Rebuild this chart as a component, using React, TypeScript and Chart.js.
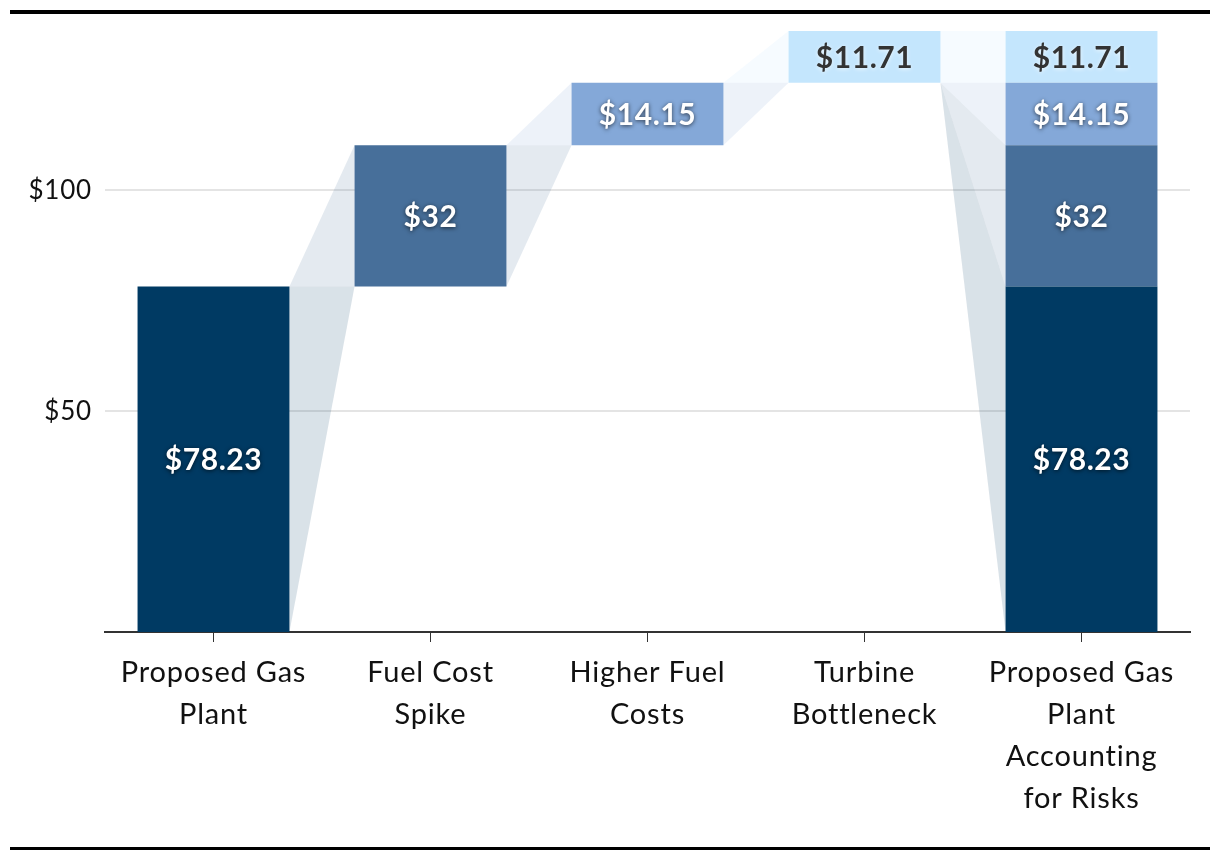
import React, { useEffect, useRef } from "react";
import { Chart, registerables } from "chart.js";

Chart.register(...registerables);

const categories: string[][] = [
  ["Proposed Gas", "Plant"],
  ["Fuel Cost", "Spike"],
  ["Higher Fuel", "Costs"],
  ["Turbine", "Bottleneck"],
  ["Proposed Gas", "Plant", "Accounting", "for Risks"],
];
const stepNames = ["Proposed Gas Plant", "Fuel Cost Spike", "Higher Fuel Costs", "Turbine Bottleneck"];
const stepValues = [78.23, 32, 14.15, 11.71];
const stepColors = ["#003a63", "#476f9a", "#84a8d8", "#c4e6fd"];
const labelColors = ["#ffffff", "#ffffff", "#ffffff", "#333333"];
const yTickValues = [50, 100];

const FONT = "Lato, 'Noto Sans', sans-serif";

function rgba(hex: string, a: number) {
  const h = hex.replace("#", "");
  const r = parseInt(h.slice(0, 2), 16);
  const g = parseInt(h.slice(2, 4), 16);
  const b = parseInt(h.slice(4, 6), 16);
  return `rgba(${r},${g},${b},${a})`;
}

export default function App() {
  const ref = useRef<HTMLCanvasElement>(null);

  useEffect(() => {
    if (!ref.current) return;
    const starts: number[] = [];
    let acc = 0;
    for (const v of stepValues) {
      starts.push(acc);
      acc += v;
    }
    const total = acc;
    const n = categories.length;

    const datasets = stepValues.map((v, s) => ({
      label: stepNames[s],
      data: categories.map((_, i) => (i === s || i === n - 1 ? [starts[s], starts[s] + v] : null)),
      backgroundColor: stepColors[s],
      borderWidth: 0,
      grouped: false,
      barPercentage: 0.7,
      categoryPercentage: 1,
    }));

    const interval = (s: number, c: number): [number, number] => {
      if (c === n - 1 || s === c) return [starts[s], starts[s] + stepValues[s]];
      if (s < c) return [starts[c], starts[c]];
      const top = starts[c] + stepValues[c];
      return [top, top];
    };

    const barEl = (chart: any, c: number) => {
      const ds = c === n - 1 ? 0 : c;
      return chart.getDatasetMeta(ds).data[c] as any;
    };

    const connectorPlugin = {
      id: "connectors",
      beforeDraw(chart: any) {
        const ctx = chart.ctx as any;
        ctx.letterSpacing = "0.8px";
      },
      beforeDatasetsDraw(chart: any) {
        const ctx = chart.ctx as CanvasRenderingContext2D;
        const y = chart.scales.y;
        ctx.save();
        for (let c = 0; c < n - 1; c++) {
          const a = barEl(chart, c);
          const b = barEl(chart, c + 1);
          if (!a || !b) continue;
          const x1 = a.x + a.width / 2;
          const x2 = b.x - b.width / 2;
          for (let s = 0; s < stepValues.length; s++) {
            const i1 = interval(s, c);
            const i2 = interval(s, c + 1);
            if (i1[0] === i1[1] && i2[0] === i2[1]) continue;
            ctx.beginPath();
            ctx.moveTo(x1, y.getPixelForValue(i1[0]));
            ctx.lineTo(x1, y.getPixelForValue(i1[1]));
            ctx.lineTo(x2, y.getPixelForValue(i2[1]));
            ctx.lineTo(x2, y.getPixelForValue(i2[0]));
            ctx.closePath();
            ctx.fillStyle = rgba(stepColors[s], 0.15);
            ctx.fill();
          }
        }
        ctx.restore();
      },
      afterDatasetsDraw(chart: any) {
        const ctx = chart.ctx as any;
        ctx.save();
        ctx.letterSpacing = "0.6px";
        ctx.font = `bold 30px ${FONT}`;
        ctx.textAlign = "center";
        ctx.textBaseline = "middle";
        for (let s = 0; s < stepValues.length; s++) {
          const meta = chart.getDatasetMeta(s);
          meta.data.forEach((el: any, i: number) => {
            if (datasets[s].data[i] == null) return;
            const cy = (el.y + el.base) / 2;
            const dark = labelColors[s] !== "#ffffff";
            ctx.shadowColor = dark ? "rgba(255,255,255,0.7)" : "rgba(0,0,0,0.65)";
            ctx.shadowBlur = 4;
            ctx.shadowOffsetX = 0;
            ctx.shadowOffsetY = 1;
            ctx.fillStyle = labelColors[s];
            ctx.fillText(`$${stepValues[s]}`, el.x, cy + 1);
          });
        }
        ctx.restore();
      },
      afterDraw(chart: any) {
        const ctx = chart.ctx as CanvasRenderingContext2D;
        ctx.save();
        ctx.fillStyle = "#000";
        ctx.fillRect(10, 10, 1200, 4);
        ctx.fillRect(10, 847, 1200, 3);
        ctx.restore();
      },
    };

    const chart = new Chart(ref.current, {
      type: "bar",
      data: { labels: categories as any, datasets: datasets as any },
      options: {
        animation: false,
        responsive: false,
        maintainAspectRatio: false,
        layout: { padding: { left: 0, right: 30, top: 31, bottom: 0 } },
        plugins: { legend: { display: false }, tooltip: { enabled: false } },
        font: { family: FONT },
        scales: {
          x: {
            grid: {
              display: true,
              offset: false,
              drawOnChartArea: false,
              drawTicks: true,
              tickLength: 10,
              tickColor: "#333",
              tickWidth: 1,
            },
            border: { display: true, color: "#333", width: 2 },
            ticks: {
              color: "#111",
              padding: 10,
              font: { family: FONT, size: 29, lineHeight: 42 / 29 },
              maxRotation: 0,
              autoSkip: false,
            },
            afterFit(scale: any) {
              scale.height = 228;
            },
          },
          y: {
            min: 0,
            max: total,
            grid: { color: "#e4e4e4", lineWidth: 2, drawTicks: false },
            border: { display: false },
            ticks: {
              color: "#111",
              padding: 13,
              font: { family: FONT, size: 26 },
              callback: (v: any) => `$${v}`,
            },
            afterBuildTicks(scale: any) {
              scale.ticks = yTickValues.map((v) => ({ value: v }));
            },
            afterFit(scale: any) {
              scale.width = 105;
            },
          },
        },
      } as any,
      plugins: [connectorPlugin],
    });
    return () => chart.destroy();
  }, []);

  return (
    <div style={{ position: "absolute", left: 0, top: 0, width: 1220, height: 860, background: "#fff" }}>
      <canvas ref={ref} width={1220} height={860} style={{ width: 1220, height: 860, display: "block" }} />
    </div>
  );
}
